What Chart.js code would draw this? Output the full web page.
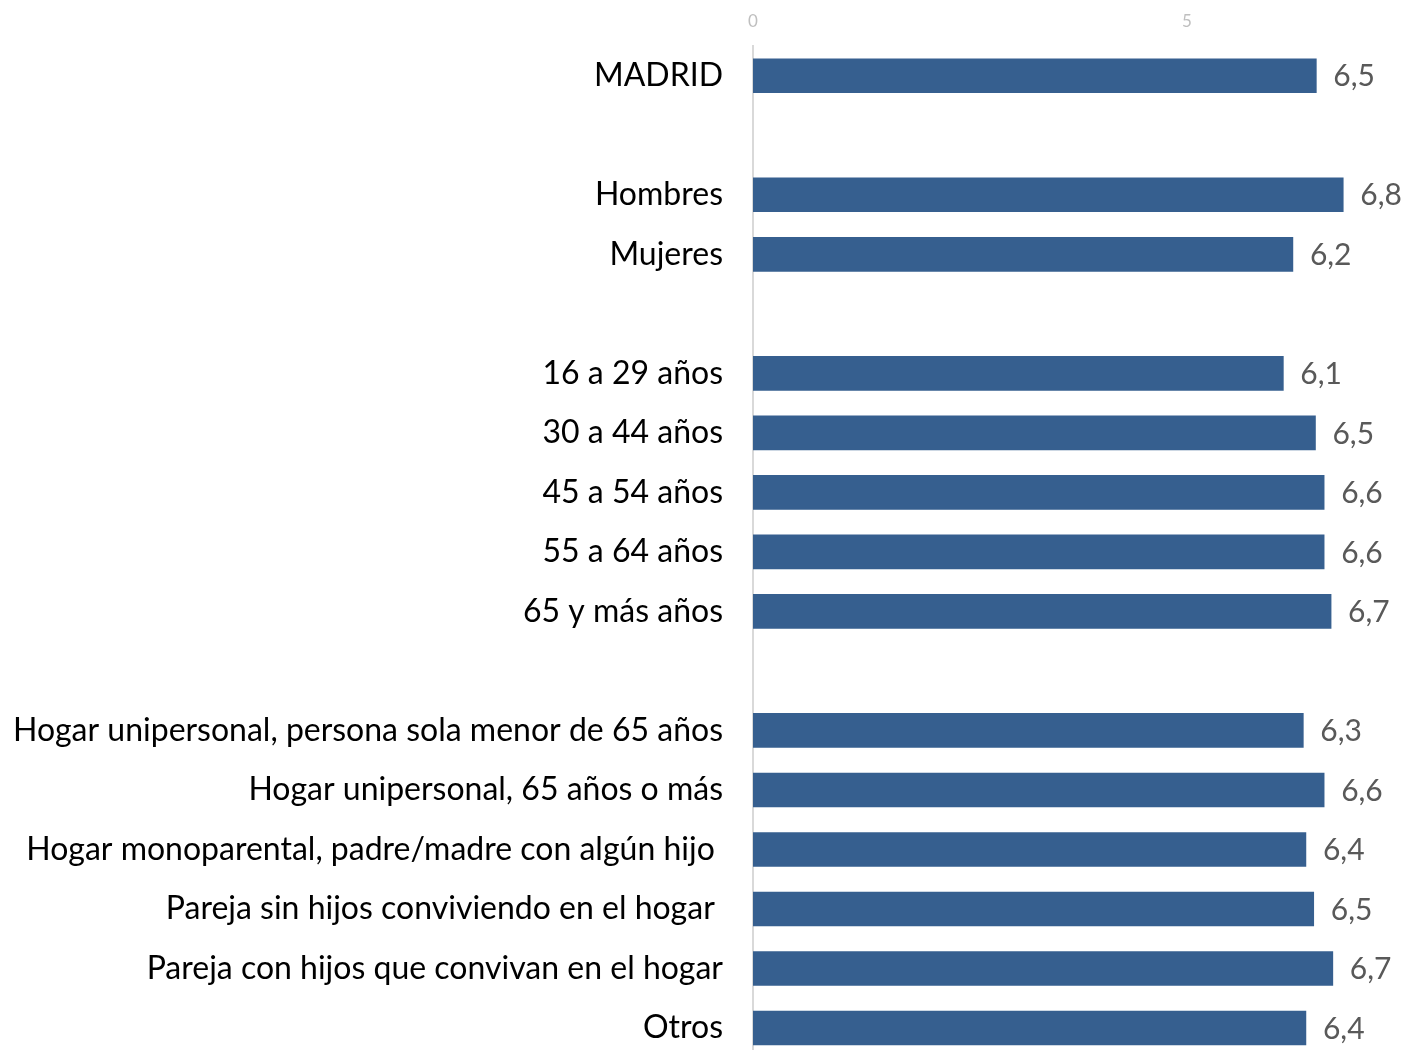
<!DOCTYPE html>
<html>
<head>
<meta charset="utf-8">
<script src="https://cdn.jsdelivr.net/npm/chart.js@4.4.1/dist/chart.umd.min.js"></script>
<style>
  html, body { margin: 0; padding: 0; background: #ffffff; width: 1404px; height: 1050px; overflow: hidden; }
  #wrap { position: absolute; left: 0; top: 0; width: 1404px; height: 1077px; }
  canvas { display: block; }
</style>
</head>
<body>
<div id="wrap"><canvas id="c" width="1404" height="1077"></canvas></div>
<script>
const categories = [
  "MADRID",
  "",
  "Hombres",
  "Mujeres",
  "",
  "16 a 29 años",
  "30 a 44 años",
  "45 a 54 años",
  "55 a 64 años",
  "65 y más años",
  "",
  "Hogar unipersonal, persona sola menor de 65 años",
  "Hogar unipersonal, 65 años o más",
  "Hogar monoparental, padre/madre con algún hijo ",
  "Pareja sin hijos conviviendo en el hogar ",
  "Pareja con hijos que convivan en el hogar",
  "Otros"
];
const values = [6.49, null, 6.80, 6.22, null, 6.11, 6.48, 6.58, 6.58, 6.66, null, 6.34, 6.58, 6.37, 6.46, 6.68, 6.37];
const tickValues = [0, 5];

const valueLabels = {
  id: 'valueLabels',
  afterDatasetsDraw(chart) {
    const ctx = chart.ctx;
    const meta = chart.getDatasetMeta(0);
    ctx.save();
    ctx.font = '30px Lato';
    ctx.fillStyle = '#595959';
    ctx.textAlign = 'left';
    ctx.textBaseline = 'middle';
    meta.data.forEach((bar, i) => {
      const v = values[i];
      if (v === null || v === undefined) return;
      ctx.fillText(v.toFixed(1).replace('.', ','), bar.x + 17, bar.y + 1);
    });
    ctx.restore();
  }
};

new Chart(document.getElementById('c'), {
  type: 'bar',
  data: {
    labels: categories,
    datasets: [{
      data: values,
      backgroundColor: '#365F8F',
      borderWidth: 0,
      barThickness: 34
    }]
  },
  options: {
    indexAxis: 'y',
    responsive: false,
    animation: false,
    layout: { padding: { left: 0, right: 0, top: 0, bottom: 0 } },
    plugins: { legend: { display: false }, tooltip: { enabled: false } },
    scales: {
      x: {
        position: 'top',
        min: 0,
        max: 7.5,
        afterBuildTicks(scale) { scale.ticks = tickValues.map(v => ({ value: v })); },
        afterFit(scale) { scale.height = 46; },
        grid: { display: false, drawTicks: false },
        border: { display: false },
        ticks: {
          padding: 14,
          color: '#bfbfbf',
          font: { family: 'Lato', size: 17 },
          callback: (v) => String(v)
        }
      },
      y: {
        afterFit(scale) { scale.width = 753; },
        grid: { display: false, drawTicks: true, tickLength: 30 },
        border: { display: true, color: '#d9d9d9', width: 2 },
        ticks: {
          padding: 0,
          color: '#000000',
          font: { family: 'Lato', size: 32 },
          autoSkip: false
        }
      }
    }
  },
  plugins: [valueLabels]
});
</script>
</body>
</html>
